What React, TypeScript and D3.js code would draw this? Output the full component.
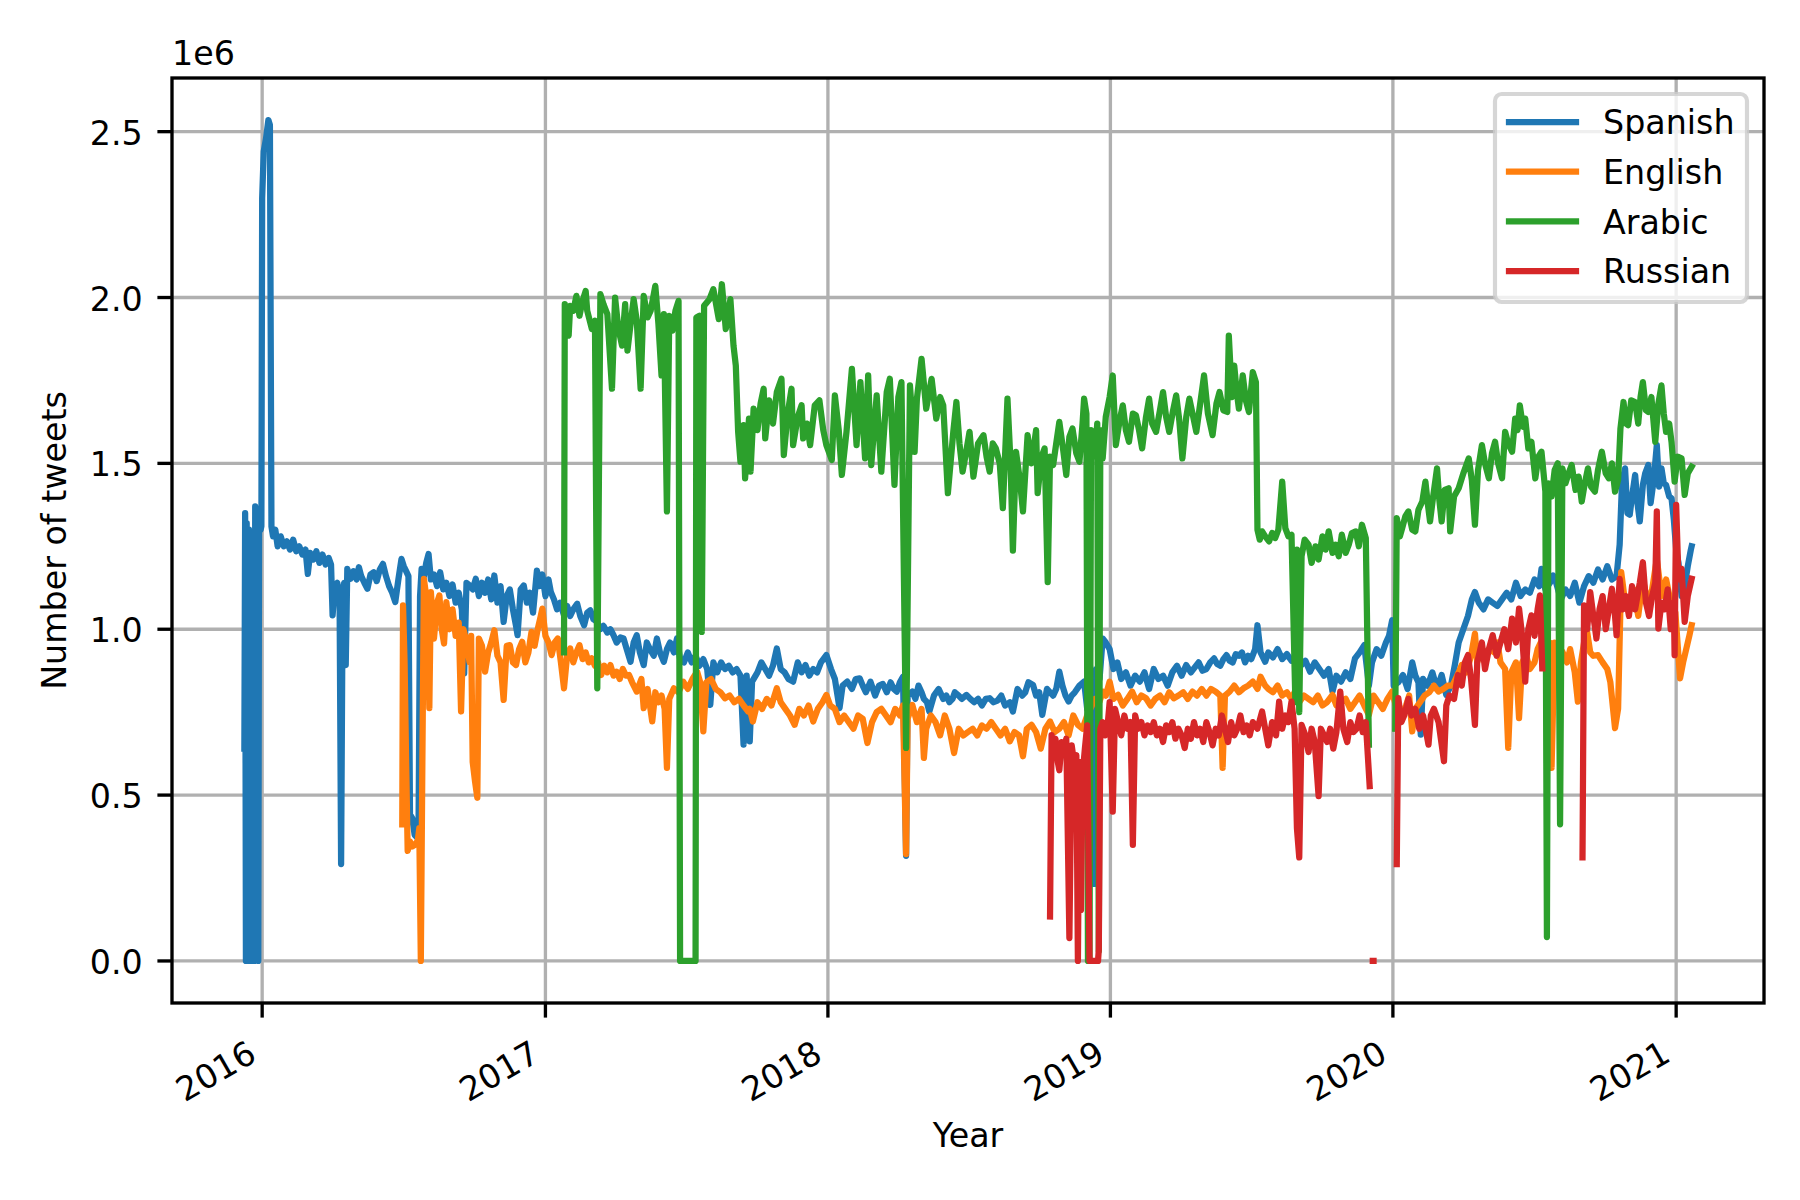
import React, { useEffect } from 'react';
import * as d3 from 'd3';

// each point: [days since 2016-01-01, tweets in thousands]; null breaks the line
type Pt = [number, number | null];

const languages = ['Spanish', 'English', 'Arabic', 'Russian'];
const colors = ['#1f77b4', '#ff7f0e', '#2ca02c', '#d62728'];
const yearTicks = [2016, 2017, 2018, 2019, 2020, 2021];
const yTicks = [0, 500, 1000, 1500, 2000, 2500];

const spanish: Pt[] = [
  [-23, 640], [-22, 1350], [-21, 0], [-20, 1320], [-19, 0], [-18, 0], [-17, 1300], [-16, 0], [-14, 1280], [-13, 0],
  [-11, 1290], [-10, 0], [-9, 1370], [-8, 1310], [-7, 1330], [-6, 1290], [-5, 0], [-4, 1340], [-2, 1300], [-1, 1310],
  [0, 2300], [2, 2440], [5, 2480], [8, 2535], [10, 2520], [12, 1310], [14, 1280], [17, 1300], [20, 1250], [24, 1280],
  [28, 1250], [32, 1265], [36, 1240], [40, 1270], [44, 1235], [48, 1250], [52, 1225], [56, 1240], [59, 1167], [62, 1230],
  [66, 1210], [70, 1235], [74, 1200], [78, 1225], [82, 1195], [86, 1215], [89, 1195], [91, 1042], [94, 1130], [97, 1140],
  [100, 1100], [102, 292], [104, 1110], [106, 1140], [108, 892], [110, 1182], [114, 1152], [118, 1175], [122, 1150], [125, 1187],
  [128, 1160], [132, 1140], [136, 1122], [140, 1165], [144, 1172], [148, 1145], [152, 1180], [156, 1197], [160, 1160], [164, 1130],
  [168, 1110], [172, 1082], [176, 1150], [180, 1212], [183, 1190], [186, 1175], [189, 1160], [191, 442], [194, 430], [197, 380],
  [200, 372], [202, 380], [204, 1100], [206, 1182], [209, 1160], [212, 1200], [215, 1227], [218, 1150], [222, 1165], [226, 1130],
  [230, 1172], [234, 1120], [238, 1140], [242, 1100], [246, 1135], [250, 1080], [254, 1110], [258, 1060], [261, 867], [264, 1140],
  [268, 1132], [272, 1120], [276, 1152], [280, 1100], [284, 1140], [288, 1110], [292, 1150], [296, 1090], [300, 1162], [304, 1080],
  [308, 1130], [312, 1022], [316, 1100], [320, 1120], [324, 1060], [328, 1010], [330, 982], [334, 1120], [338, 1132], [342, 1080],
  [346, 1110], [350, 1050], [355, 1177], [358, 1130], [362, 1165], [366, 1100], [370, 1150], [373, 1112], [377, 1090], [381, 1060],
  [385, 1080], [390, 1042], [394, 1070], [398, 1040], [402, 1060], [407, 1077], [411, 1040], [416, 1012], [420, 1050], [424, 1057],
  [428, 1030], [433, 1022], [437, 1000], [441, 1010], [446, 990], [450, 1000], [454, 982], [458, 960], [463, 975], [467, 972],
  [471, 940], [476, 902], [480, 960], [484, 982], [488, 930], [493, 892], [497, 960], [501, 940], [506, 920], [510, 972],
  [514, 930], [519, 902], [523, 940], [527, 960], [532, 930], [536, 972], [540, 910], [545, 900], [550, 930], [555, 900],
  [560, 920], [565, 890], [570, 910], [575, 880], [579, 772], [583, 900], [588, 870], [593, 900], [598, 880], [603, 890],
  [608, 870], [613, 880], [618, 860], [622, 652], [626, 860], [630, 662], [633, 842], [640, 870], [645, 900], [650, 880],
  [655, 860], [660, 890], [665, 942], [670, 880], [675, 870], [680, 850], [686, 842], [692, 900], [697, 870], [702, 892],
  [707, 860], [712, 880], [717, 870], [722, 900], [729, 922], [735, 880], [740, 850], [746, 762], [750, 830], [756, 842],
  [762, 820], [767, 850], [772, 852], [776, 830], [780, 810], [786, 842], [792, 800], [797, 830], [802, 835], [807, 810],
  [812, 840], [816, 820], [820, 812], [824, 840], [828, 857], [832, 317], [834, 800], [840, 812], [844, 790], [848, 830],
  [852, 810], [855, 790], [859, 780], [862, 752], [868, 800], [874, 820], [880, 790], [884, 800], [888, 780], [892, 790],
  [895, 810], [900, 800], [904, 790], [910, 802], [915, 790], [920, 780], [925, 790], [930, 770], [935, 790], [940, 792],
  [945, 780], [950, 785], [955, 800], [960, 770], [966, 780], [970, 752], [976, 820], [982, 800], [986, 810], [990, 840],
  [996, 832], [1000, 800], [1004, 810], [1008, 742], [1014, 820], [1018, 810], [1022, 800], [1026, 820], [1030, 872], [1034, 830],
  [1038, 800], [1042, 782], [1046, 800], [1050, 810], [1056, 830], [1062, 842], [1066, 760], [1069, 900], [1072, 850], [1075, 232],
  [1078, 880], [1082, 850], [1086, 972], [1090, 960], [1095, 940], [1100, 880], [1105, 900], [1110, 850], [1116, 870], [1122, 830],
  [1128, 860], [1134, 842], [1140, 870], [1146, 820], [1152, 880], [1158, 850], [1164, 860], [1170, 830], [1176, 870], [1182, 890],
  [1188, 860], [1194, 892], [1200, 870], [1205, 885], [1210, 900], [1215, 875], [1220, 880], [1225, 900], [1230, 912], [1234, 895],
  [1238, 890], [1242, 910], [1246, 922], [1250, 905], [1254, 900], [1258, 925], [1262, 920], [1266, 930], [1270, 900], [1274, 920],
  [1278, 910], [1283, 940], [1286, 1012], [1290, 930], [1296, 902], [1300, 930], [1306, 915], [1312, 940], [1318, 910], [1324, 925],
  [1330, 905], [1336, 920], [1342, 890], [1348, 905], [1354, 872], [1360, 900], [1366, 880], [1372, 860], [1378, 880], [1383, 812],
  [1388, 860], [1394, 842], [1400, 870], [1406, 850], [1412, 912], [1418, 930], [1424, 952], [1430, 830], [1434, 900], [1440, 940],
  [1446, 920], [1452, 960], [1456, 980], [1460, 1027], [1462, 830], [1468, 840], [1474, 862], [1480, 820], [1486, 900], [1490, 860],
  [1494, 840], [1497, 682], [1500, 850], [1506, 830], [1512, 870], [1518, 820], [1524, 862], [1530, 802], [1536, 830], [1541, 892],
  [1546, 960], [1552, 1000], [1558, 1040], [1563, 1090], [1567, 1112], [1572, 1080], [1578, 1060], [1584, 1090], [1590, 1080], [1596, 1070],
  [1602, 1090], [1608, 1110], [1614, 1090], [1620, 1140], [1626, 1100], [1632, 1120], [1638, 1110], [1644, 1150], [1650, 1130], [1653, 1182],
  [1658, 1120], [1664, 1140], [1668, 1162], [1672, 1140], [1678, 1090], [1684, 1120], [1690, 1100], [1696, 1140], [1702, 1080], [1708, 1130],
  [1714, 1160], [1720, 1140], [1726, 1180], [1732, 1150], [1738, 1190], [1744, 1150], [1750, 1160], [1754, 1255], [1757, 1440], [1761, 1485],
  [1764, 1350], [1767, 1345], [1770, 1400], [1774, 1465], [1777, 1380], [1780, 1325], [1784, 1435], [1787, 1470], [1791, 1495], [1794, 1380],
  [1798, 1450], [1802, 1555], [1805, 1430], [1808, 1485], [1811, 1440], [1814, 1435], [1818, 1400], [1821, 1395], [1824, 1330], [1827, 1240],
  [1830, 1200], [1834, 1100], [1838, 1130], [1842, 1190], [1846, 1240], [1847, 1250],
];

const english: Pt[] = [
  [181, 412], [182, 1072], [184, 900], [186, 600], [188, 332], [191, 360], [194, 345], [197, 350], [201, 362], [203, 400],
  [205, 0], [207, 600], [209, 1152], [212, 1100], [214, 1000], [216, 762], [218, 1112], [222, 972], [226, 1080], [229, 1102],
  [232, 1000], [235, 957], [238, 1082], [242, 1000], [246, 1060], [250, 980], [254, 1020], [257, 752], [260, 1000], [264, 962],
  [268, 900], [270, 980], [272, 600], [275, 542], [278, 492], [280, 972], [284, 950], [288, 872], [292, 930], [296, 960],
  [300, 997], [304, 920], [308, 900], [312, 787], [316, 950], [320, 952], [324, 900], [328, 892], [332, 940], [336, 962],
  [340, 900], [344, 930], [348, 992], [352, 950], [356, 1000], [360, 1040], [362, 1062], [366, 980], [370, 960], [374, 922],
  [378, 960], [382, 972], [386, 900], [390, 822], [394, 920], [398, 942], [402, 900], [406, 930], [410, 952], [414, 910],
  [418, 930], [422, 900], [426, 912], [430, 890], [434, 900], [438, 862], [442, 890], [446, 870], [450, 892], [454, 860],
  [458, 872], [462, 850], [466, 880], [470, 860], [474, 862], [478, 840], [484, 812], [490, 850], [493, 762], [498, 820],
  [504, 722], [508, 810], [512, 780], [516, 800], [520, 760], [523, 582], [526, 790], [532, 822], [538, 810], [544, 842],
  [550, 820], [556, 850], [562, 872], [566, 840], [570, 692], [574, 840], [580, 850], [586, 820], [592, 810], [598, 792],
  [604, 800], [610, 780], [616, 790], [622, 770], [628, 752], [630, 760], [634, 722], [640, 780], [646, 760], [652, 790],
  [658, 770], [665, 822], [670, 780], [676, 760], [682, 740], [688, 712], [694, 760], [700, 740], [706, 770], [712, 722],
  [718, 760], [724, 780], [729, 802], [734, 770], [740, 760], [746, 720], [752, 740], [758, 720], [764, 700], [770, 740],
  [776, 730], [782, 657], [788, 720], [794, 750], [800, 760], [806, 740], [812, 720], [818, 760], [824, 740], [828, 770],
  [832, 322], [834, 730], [840, 772], [846, 720], [852, 760], [855, 612], [858, 700], [864, 740], [870, 720], [876, 680],
  [882, 740], [888, 700], [894, 627], [900, 700], [906, 680], [912, 690], [918, 700], [924, 680], [930, 710], [936, 700],
  [942, 720], [948, 700], [954, 680], [960, 700], [966, 662], [972, 690], [978, 680], [983, 617], [988, 700], [994, 712],
  [1000, 690], [1006, 640], [1012, 700], [1018, 722], [1024, 690], [1030, 700], [1036, 720], [1042, 680], [1048, 740], [1054, 712],
  [1060, 700], [1066, 740], [1070, 760], [1076, 790], [1082, 782], [1086, 812], [1090, 800], [1095, 842], [1100, 790], [1106, 802],
  [1112, 770], [1118, 790], [1124, 812], [1130, 780], [1136, 800], [1142, 792], [1148, 770], [1154, 790], [1160, 800], [1166, 780],
  [1172, 810], [1178, 792], [1184, 800], [1190, 810], [1196, 790], [1202, 812], [1208, 800], [1214, 820], [1220, 800], [1226, 820],
  [1232, 812], [1238, 800], [1241, 582], [1244, 800], [1250, 812], [1256, 830], [1262, 810], [1268, 822], [1274, 830], [1280, 842],
  [1286, 820], [1290, 857], [1296, 830], [1300, 820], [1306, 810], [1312, 830], [1318, 800], [1324, 810], [1330, 790], [1336, 820],
  [1340, 780], [1346, 800], [1352, 790], [1358, 780], [1364, 800], [1370, 770], [1376, 780], [1383, 802], [1388, 770], [1394, 780],
  [1400, 790], [1406, 760], [1412, 780], [1418, 800], [1424, 770], [1430, 742], [1436, 800], [1442, 780], [1448, 760], [1454, 790],
  [1460, 812], [1466, 760], [1472, 740], [1478, 770], [1482, 800], [1486, 692], [1490, 760], [1496, 780], [1502, 800], [1508, 810],
  [1514, 830], [1520, 812], [1526, 820], [1532, 830], [1538, 830], [1542, 850], [1546, 870], [1550, 892], [1556, 870], [1562, 920],
  [1567, 987], [1570, 900], [1575, 950], [1580, 920], [1586, 940], [1592, 930], [1596, 960], [1600, 900], [1606, 880], [1610, 642],
  [1614, 870], [1620, 900], [1624, 732], [1628, 900], [1633, 922], [1638, 880], [1644, 900], [1648, 940], [1652, 960], [1656, 930],
  [1660, 900], [1664, 960], [1666, 582], [1670, 960], [1674, 940], [1680, 932], [1686, 900], [1690, 940], [1696, 870], [1700, 782],
  [1704, 900], [1708, 960], [1712, 992], [1716, 930], [1720, 920], [1726, 922], [1732, 900], [1738, 880], [1742, 840], [1748, 702],
  [1752, 760], [1756, 1172], [1760, 1100], [1766, 1050], [1772, 1120], [1778, 1040], [1784, 1150], [1790, 1080], [1796, 1120], [1802, 1212],
  [1808, 1100], [1814, 1150], [1820, 1080], [1826, 1050], [1832, 852], [1836, 900], [1840, 940], [1844, 980], [1847, 1012],
];

const arabic: Pt[] = [
  [390, 930], [391, 1980], [394, 1900], [396, 1885], [398, 1975], [402, 1960], [406, 2005], [410, 1945], [414, 1990], [418, 2020],
  [420, 1960], [426, 1905], [430, 1930], [433, 822], [437, 2010], [441, 1980], [446, 1950], [452, 1725], [456, 2000], [460, 1910],
  [465, 1855], [469, 1980], [472, 1840], [476, 1920], [480, 1995], [484, 1930], [489, 1725], [493, 2005], [498, 1940], [502, 1960],
  [508, 2035], [512, 1920], [516, 1765], [519, 1950], [523, 1355], [526, 1945], [530, 1900], [534, 1960], [538, 1990], [540, 0],
  [560, 0], [561, 1940], [565, 1945], [568, 992], [571, 1975], [578, 1995], [583, 2025], [590, 1935], [594, 2040], [599, 1905],
  [605, 1995], [609, 1855], [612, 1795], [615, 1595], [618, 1505], [622, 1615], [624, 1455], [629, 1635], [631, 1475], [635, 1665],
  [640, 1600], [644, 1680], [648, 1725], [650, 1575], [655, 1690], [660, 1620], [665, 1715], [671, 1755], [674, 1525], [679, 1650],
  [684, 1725], [686, 1555], [692, 1640], [697, 1675], [699, 1575], [704, 1620], [708, 1555], [714, 1675], [720, 1690], [725, 1600],
  [729, 1555], [736, 1510], [740, 1705], [745, 1600], [749, 1465], [755, 1595], [762, 1785], [768, 1555], [773, 1745], [779, 1515],
  [783, 1765], [787, 1495], [794, 1705], [800, 1475], [807, 1715], [811, 1755], [817, 1435], [822, 1700], [826, 1745], [832, 642],
  [837, 1735], [843, 1535], [846, 1695], [852, 1815], [858, 1665], [865, 1755], [871, 1635], [876, 1700], [880, 1675], [886, 1410],
  [893, 1595], [897, 1685], [901, 1560], [905, 1475], [910, 1540], [914, 1595], [919, 1460], [925, 1560], [932, 1585], [936, 1520],
  [940, 1475], [944, 1560], [948, 1545], [953, 1500], [957, 1365], [963, 1695], [967, 1500], [970, 1237], [974, 1535], [979, 1450],
  [983, 1355], [989, 1585], [994, 1500], [1000, 1600], [1002, 1410], [1007, 1520], [1011, 1545], [1015, 1142], [1018, 1520], [1022, 1495],
  [1026, 1560], [1030, 1625], [1035, 1540], [1039, 1465], [1043, 1580], [1047, 1605], [1052, 1530], [1056, 1505], [1060, 1620], [1062, 1695],
  [1065, 1650], [1067, 0], [1069, 0], [1071, 1600], [1076, 1520], [1079, 1620], [1081, 30], [1083, 1600], [1086, 1515], [1090, 1640],
  [1095, 1700], [1099, 1765], [1103, 1555], [1108, 1630], [1112, 1675], [1116, 1600], [1120, 1565], [1125, 1650], [1129, 1645], [1133, 1600],
  [1137, 1545], [1142, 1640], [1146, 1695], [1150, 1620], [1155, 1595], [1160, 1660], [1164, 1715], [1168, 1640], [1172, 1595], [1177, 1660],
  [1181, 1705], [1185, 1630], [1189, 1515], [1194, 1640], [1198, 1695], [1203, 1640], [1207, 1595], [1212, 1680], [1217, 1765], [1222, 1650],
  [1228, 1585], [1233, 1680], [1237, 1715], [1242, 1660], [1247, 1655], [1249, 1885], [1253, 1700], [1256, 1795], [1259, 1720], [1262, 1665],
  [1267, 1765], [1271, 1690], [1275, 1655], [1280, 1775], [1284, 1745], [1286, 1300], [1289, 1270], [1292, 1295], [1296, 1280], [1301, 1265],
  [1305, 1290], [1309, 1275], [1313, 1300], [1318, 1445], [1322, 1305], [1326, 1280], [1330, 1285], [1335, 780], [1337, 1240], [1340, 750],
  [1343, 1220], [1347, 1270], [1352, 1255], [1356, 1200], [1361, 1250], [1365, 1210], [1370, 1280], [1374, 1240], [1378, 1295], [1383, 1230],
  [1387, 1255], [1391, 1220], [1395, 1285], [1400, 1230], [1404, 1255], [1408, 1290], [1413, 1295], [1417, 1250], [1421, 1315], [1426, 1275],
  [1430, 652], [1431, null], [1464, 700], [1466, 1335], [1470, 1280], [1473, 1305], [1477, 1340], [1481, 1355], [1486, 1300], [1490, 1295],
  [1494, 1360], [1499, 1385], [1503, 1445], [1506, 1380], [1509, 1325], [1513, 1400], [1518, 1485], [1521, 1390], [1524, 1325], [1528, 1420],
  [1533, 1425], [1535, 1295], [1540, 1400], [1546, 1425], [1552, 1470], [1559, 1515], [1563, 1450], [1567, 1315], [1571, 1480], [1576, 1555],
  [1580, 1500], [1585, 1455], [1589, 1530], [1593, 1565], [1597, 1500], [1602, 1455], [1606, 1595], [1610, 1560], [1615, 1535], [1619, 1635],
  [1622, 1600], [1625, 1675], [1629, 1610], [1632, 1635], [1636, 1545], [1640, 1565], [1645, 1455], [1649, 1520], [1653, 1535], [1658, 1415],
  [1660, 72], [1662, 1440], [1666, 1400], [1670, 1480], [1674, 1500], [1677, 412], [1680, 1485], [1684, 1440], [1688, 1470], [1692, 1495],
  [1697, 1420], [1701, 1460], [1705, 1385], [1709, 1440], [1713, 1485], [1717, 1430], [1722, 1415], [1726, 1480], [1731, 1535], [1736, 1470],
  [1740, 1455], [1744, 1500], [1748, 1415], [1752, 1450], [1755, 1605], [1759, 1685], [1762, 1620], [1765, 1615], [1769, 1690], [1774, 1685],
  [1778, 1620], [1781, 1700], [1784, 1745], [1788, 1660], [1791, 1655], [1795, 1700], [1800, 1565], [1804, 1680], [1808, 1735], [1811, 1650],
  [1814, 1595], [1818, 1620], [1821, 1565], [1825, 1445], [1829, 1520], [1834, 1515], [1838, 1405], [1842, 1470], [1847, 1490],
];

const russian: Pt[] = [
  [1018, 134], [1020, 681], [1022, 640], [1025, 670], [1028, 600], [1030, 575], [1033, 660], [1036, 640], [1039, 670], [1043, 69],
  [1046, 650], [1049, 600], [1052, 620], [1054, 0], [1056, 600], [1058, 154], [1060, 560], [1063, 640], [1066, 710], [1069, 0],
  [1080, 0], [1081, 34], [1083, 700], [1086, 720], [1089, 680], [1092, 700], [1095, 780], [1099, 450], [1102, 760], [1106, 720],
  [1110, 680], [1114, 740], [1118, 700], [1122, 720], [1125, 350], [1128, 740], [1132, 700], [1136, 720], [1140, 680], [1144, 710],
  [1148, 690], [1152, 720], [1156, 680], [1160, 700], [1164, 660], [1168, 710], [1172, 690], [1176, 720], [1180, 670], [1184, 700],
  [1188, 680], [1192, 642], [1196, 700], [1200, 670], [1204, 720], [1208, 680], [1212, 700], [1216, 660], [1220, 720], [1224, 690],
  [1228, 650], [1232, 700], [1236, 680], [1240, 740], [1244, 700], [1248, 660], [1252, 720], [1256, 680], [1260, 700], [1264, 740],
  [1268, 690], [1272, 710], [1276, 680], [1280, 720], [1286, 700], [1292, 752], [1296, 700], [1300, 650], [1305, 720], [1310, 680],
  [1314, 782], [1318, 700], [1322, 740], [1326, 720], [1330, 782], [1334, 700], [1337, 400], [1340, 312], [1343, 712], [1348, 680],
  [1352, 630], [1356, 700], [1360, 660], [1365, 497], [1368, 700], [1372, 680], [1376, 660], [1380, 700], [1384, 640], [1388, 690],
  [1393, 812], [1397, 700], [1402, 660], [1406, 720], [1410, 690], [1414, 700], [1418, 740], [1422, 690], [1426, 720], [1431, 527],
  [1433, null], [1435, 0], [1436, 0], [1440, null], [1466, 292], [1468, 792], [1472, 720], [1476, 742], [1481, 790], [1485, 740],
  [1490, 760], [1495, 700], [1500, 740], [1507, 652], [1510, 740], [1514, 760], [1520, 720], [1527, 602], [1530, 770], [1534, 800],
  [1540, 790], [1545, 862], [1550, 830], [1554, 900], [1558, 922], [1562, 850], [1567, 712], [1570, 900], [1576, 960], [1580, 880],
  [1585, 940], [1590, 982], [1595, 920], [1600, 960], [1605, 1000], [1610, 940], [1615, 1032], [1620, 960], [1624, 1062], [1628, 980],
  [1632, 842], [1636, 1000], [1640, 1042], [1644, 980], [1648, 1060], [1651, 1102], [1654, 882], [1680, null], [1706, 312], [1708, 1072],
  [1712, 1000], [1716, 1112], [1720, 1040], [1724, 972], [1728, 1060], [1732, 1100], [1736, 1000], [1740, 1060], [1744, 1122], [1748, 1040],
  [1750, 982], [1754, 1152], [1758, 1060], [1762, 1100], [1766, 1040], [1770, 1130], [1774, 1060], [1780, 1140], [1784, 1202], [1788, 1080],
  [1792, 1040], [1796, 1100], [1800, 1140], [1802, 1355], [1804, 1002], [1808, 1080], [1812, 1060], [1816, 1120], [1820, 1000], [1824, 1080],
  [1825, 922], [1827, 1375], [1830, 1150], [1834, 1182], [1838, 1022], [1842, 1100], [1847, 1152],
];

const seriesData = [spanish, english, arabic, russian];

const W = 1800;
const H = 1200;
const plot = { left: 172, right: 1764, top: 78, bottom: 1003 };
const fontSize = 33.3;
const font = 'DejaVu Sans, sans-serif';

const dayMs = 86400000;
const base = Date.UTC(2016, 0, 1);
const toDate = (d: number) => new Date(base + d * dayMs);

export default function App() {
  useEffect(() => {
    document.body.style.margin = '0';
  }, []);

  const valid = seriesData.flat().filter((p) => p[1] != null);
  const [d0, d1] = d3.extent(valid, (p) => p[0]) as [number, number];
  const [v0, v1] = d3.extent(valid, (p) => p[1] as number) as [number, number];
  const xPad = (d1 - d0) * 0.05;
  const yPad = (v1 - v0) * 0.05;

  const x = d3.scaleUtc()
    .domain([toDate(d0 - xPad), toDate(d1 + xPad)])
    .range([plot.left, plot.right]);
  const y = d3.scaleLinear()
    .domain([v0 - yPad, v1 + yPad])
    .range([plot.bottom, plot.top]);

  const line = d3.line<Pt>()
    .defined((p) => p[1] != null)
    .x((p) => x(toDate(p[0])))
    .y((p) => y(p[1] as number));

  const gridColor = '#b0b0b0';
  const thin = 3.33;
  const tickLen = 14.6;

  return (
    <svg width={W} height={H} style={{ position: 'absolute', left: 0, top: 0, background: '#fff' }}
      fontFamily={font} fontSize={fontSize}>
      <rect x={0} y={0} width={W} height={H} fill="#fff" />
      <defs>
        <clipPath id="plot-clip">
          <rect x={plot.left} y={plot.top} width={plot.right - plot.left} height={plot.bottom - plot.top} />
        </clipPath>
      </defs>

      {/* grid */}
      {yearTicks.map((yr) => {
        const tx = x(new Date(Date.UTC(yr, 0, 1)));
        return <line key={'gx' + yr} x1={tx} x2={tx} y1={plot.top} y2={plot.bottom} stroke={gridColor} strokeWidth={thin} />;
      })}
      {yTicks.map((v) => (
        <line key={'gy' + v} x1={plot.left} x2={plot.right} y1={y(v)} y2={y(v)} stroke={gridColor} strokeWidth={thin} />
      ))}

      {/* series */}
      <g clipPath="url(#plot-clip)">
        {seriesData.map((s, i) => (
          <path key={languages[i]} d={line(s) || ''} fill="none" stroke={colors[i]} strokeWidth={6.25}
            strokeLinejoin="round" strokeLinecap="square" />
        ))}
      </g>

      {/* spines */}
      <rect x={plot.left} y={plot.top} width={plot.right - plot.left} height={plot.bottom - plot.top}
        fill="none" stroke="#000" strokeWidth={thin} strokeLinejoin="miter" />

      {/* y axis */}
      {yTicks.map((v) => (
        <g key={'ty' + v}>
          <line x1={plot.left - tickLen} x2={plot.left} y1={y(v)} y2={y(v)} stroke="#000" strokeWidth={thin} />
          <text x={plot.left - tickLen - 14.6} y={y(v) + 13} textAnchor="end" fill="#000">
            {(v / 1000).toFixed(1)}
          </text>
        </g>
      ))}
      <text x={plot.left} y={65} fill="#000">1e6</text>
      <text transform={`translate(66,${(plot.top + plot.bottom) / 2}) rotate(-90)`} textAnchor="middle" fill="#000">
        Number of tweets
      </text>

      {/* x axis */}
      {yearTicks.map((yr) => {
        const tx = x(new Date(Date.UTC(yr, 0, 1)));
        return (
          <g key={'tx' + yr}>
            <line x1={tx} x2={tx} y1={plot.bottom} y2={plot.bottom + tickLen} stroke="#000" strokeWidth={thin} />
            <text transform={`translate(${tx - 3.9},1060) rotate(-30)`} textAnchor="end" fill="#000">{yr}</text>
          </g>
        );
      })}
      <text x={(plot.left + plot.right) / 2} y={1147} textAnchor="middle" fill="#000">Year</text>

      {/* legend */}
      <g>
        <rect x={1495} y={94} width={252} height={208} rx={6.7} ry={6.7}
          fill="#fff" fillOpacity={0.8} stroke="#cccccc" strokeOpacity={0.8} strokeWidth={4.17} />
        {languages.map((name, i) => {
          const ly = 122 + i * 49.7;
          return (
            <g key={'lg' + name}>
              <line x1={1509} x2={1576} y1={ly} y2={ly} stroke={colors[i]} strokeWidth={6.25} strokeLinecap="square" />
              <text x={1603} y={ly + 12.3} fill="#000">{name}</text>
            </g>
          );
        })}
      </g>
    </svg>
  );
}
